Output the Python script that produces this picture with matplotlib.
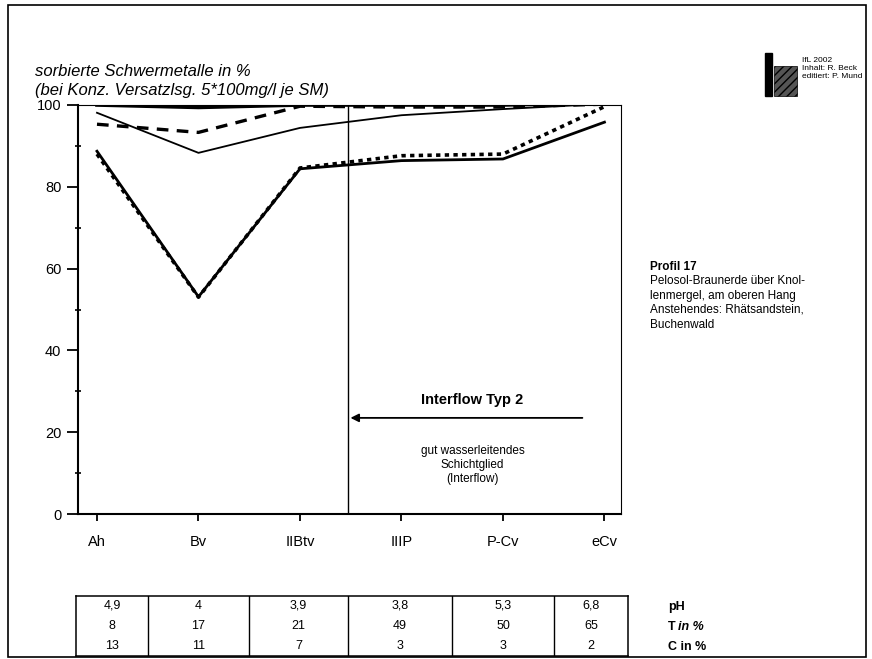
import matplotlib
matplotlib.use("Agg")
import matplotlib.pyplot as plt
from matplotlib.patches import Rectangle
import numpy as np

plt.rcParams['font.family'] = ['Liberation Sans', 'DejaVu Sans']

horizons = ["Ah", "Bv", "IIBtv", "IIIP", "P-Cv", "eCv"]
# five heavy metals, sorbed share in %
sm_a = [100, 99.4, 100, 100, 100, 100.5]
sm_b = [98.1, 88.3, 94.4, 97.5, 99.0, 100.3]
sm_c = [95.3, 93.3, 99.7, 99.5, 99.5, 100.2]
sm_d = [88.7, 53.1, 84.4, 86.4, 86.8, 95.8]
sm_e = [88.0, 53.0, 84.6, 87.6, 88.0, 99.6]

table_rows = ["pH", "T", "C"]
ph_vals = ["4,9", "4", "3,9", "3,8", "5,3", "6,8"]
t_vals = ["8", "17", "21", "49", "50", "65"]
c_vals = ["13", "11", "7", "3", "3", "2"]

W, H = 872, 659
fig = plt.figure(figsize=(W / 100, H / 100), dpi=100)

def fx(px):
    return px / W

def fy(py):
    return 1 - py / H

# outer frame
fig.patches.append(Rectangle((fx(8), fy(657)), fx(858), 652 / H, transform=fig.transFigure,
                             fill=False, lw=1.2, color='black'))

ax = fig.add_axes([fx(78), fy(514), fx(621 - 78), (514 - 105) / H])
x = np.arange(len(horizons))

ax.plot(x, sm_a, color='black', lw=2.6, solid_joinstyle='miter')
ax.plot(x, sm_b, color='black', lw=1.3)
ax.plot(x, sm_c, color='black', lw=2.4, dashes=(3.5, 2.5))
ax.plot(x, sm_d, color='black', lw=2.0)
ax.plot(x, sm_e, color='black', lw=2.6, dashes=(1.2, 1.2))

ax.set_xlim(-0.187, 5.163)
ax.set_ylim(0, 100)
ax.set_xticks(x)
ax.set_xticklabels(horizons, fontsize=10.5)
ax.set_yticks(range(0, 101, 20))
ax.set_yticklabels([str(v) for v in range(0, 101, 20)], fontsize=10.5)
ax.set_yticks(range(10, 100, 20), minor=True)
ax.tick_params(axis='y', which='major', length=8, width=1.3, pad=4)
ax.tick_params(axis='y', which='minor', direction='inout', length=5, width=1.2)
ax.tick_params(axis='x', which='major', length=5, width=1.3, pad=10)
ax.spines['left'].set_linewidth(1.5)
ax.spines['bottom'].set_linewidth(1.5)
ax.spines['top'].set_linewidth(0.8)
ax.spines['right'].set_linewidth(0.8)

# interflow boundary
xb = 2.47
ax.plot([xb, xb], [0, 100], color='black', lw=1.0)
ax.annotate("", xy=(xb, 23.5), xytext=(4.81, 23.5),
            arrowprops=dict(arrowstyle='-|>', color='black', lw=1.3, mutation_scale=12))
ax.text(3.70, 27.9, "Interflow Typ 2", ha='center', va='center', fontsize=10.5, fontweight='bold')
ax.text(3.70, 12.0, "gut wasserleitendes\nSchichtglied\n(Interflow)", ha='center', va='center',
        fontsize=8.5, linespacing=1.2)

# title
fig.text(fx(35), fy(71), "sorbierte Schwermetalle in %", fontsize=12, style='italic', va='center')
fig.text(fx(35), fy(90), "(bei Konz. Versatzlsg. 5*100mg/l je SM)", fontsize=12, style='italic', va='center')

# logo block
fig.patches.append(Rectangle((fx(765), fy(96)), fx(7), 43 / H, transform=fig.transFigure,
                             color='black'))
fig.patches.append(Rectangle((fx(774), fy(96)), fx(23), 30 / H, transform=fig.transFigure,
                             facecolor='#555555', edgecolor='black', hatch='////', lw=0.5))
fig.text(fx(802), fy(60), "IfL 2002", fontsize=6, va='center')
fig.text(fx(802), fy(68), "Inhalt: R. Beck", fontsize=6, va='center')
fig.text(fx(802), fy(77), "editiert: P. Mund", fontsize=6, va='center')

# profile description
fig.text(fx(650), fy(267), "Profil 17", fontsize=8.5, fontweight='bold', va='center')
desc = ["Pelosol-Braunerde über Knol-", "lenmergel, am oberen Hang",
        "Anstehendes: Rhätsandstein,", "Buchenwald"]
for i, line in enumerate(desc):
    fig.text(fx(650), fy(281 + i * 14.5), line, fontsize=8.5, va='center')

# table below the chart
tax = fig.add_axes([fx(76), fy(656), fx(628 - 76), 60 / H])
tax.set_xlim(-0.207, 5.232)
tax.set_ylim(0, 3)
tax.set_xticks([])
tax.set_yticks([])
for s in tax.spines.values():
    s.set_linewidth(1.1)
for b in [0.5, 1.5, xb, 3.5, 4.5]:
    tax.plot([b, b], [0, 3], color='black', lw=1.0)
edges = [-0.207, 0.5, 1.5, xb, 3.5, 4.5, 5.232]
for row, vals in enumerate([ph_vals, t_vals, c_vals]):
    yy = 2.5 - row
    for i, v in enumerate(vals):
        tax.text((edges[i] + edges[i + 1]) / 2, yy, v, ha='center', va='center', fontsize=9)

fig.text(fx(668), fy(607), "pH", fontsize=9, fontweight='bold', va='center')
fig.text(fx(668), fy(627), "T", fontsize=9, fontweight='bold', va='center')
fig.text(fx(678), fy(627), "in %", fontsize=9, fontweight='bold', style='italic', va='center')
fig.text(fx(668), fy(647), "C in %", fontsize=9, fontweight='bold', va='center')

fig.savefig("out.png", dpi=100)
